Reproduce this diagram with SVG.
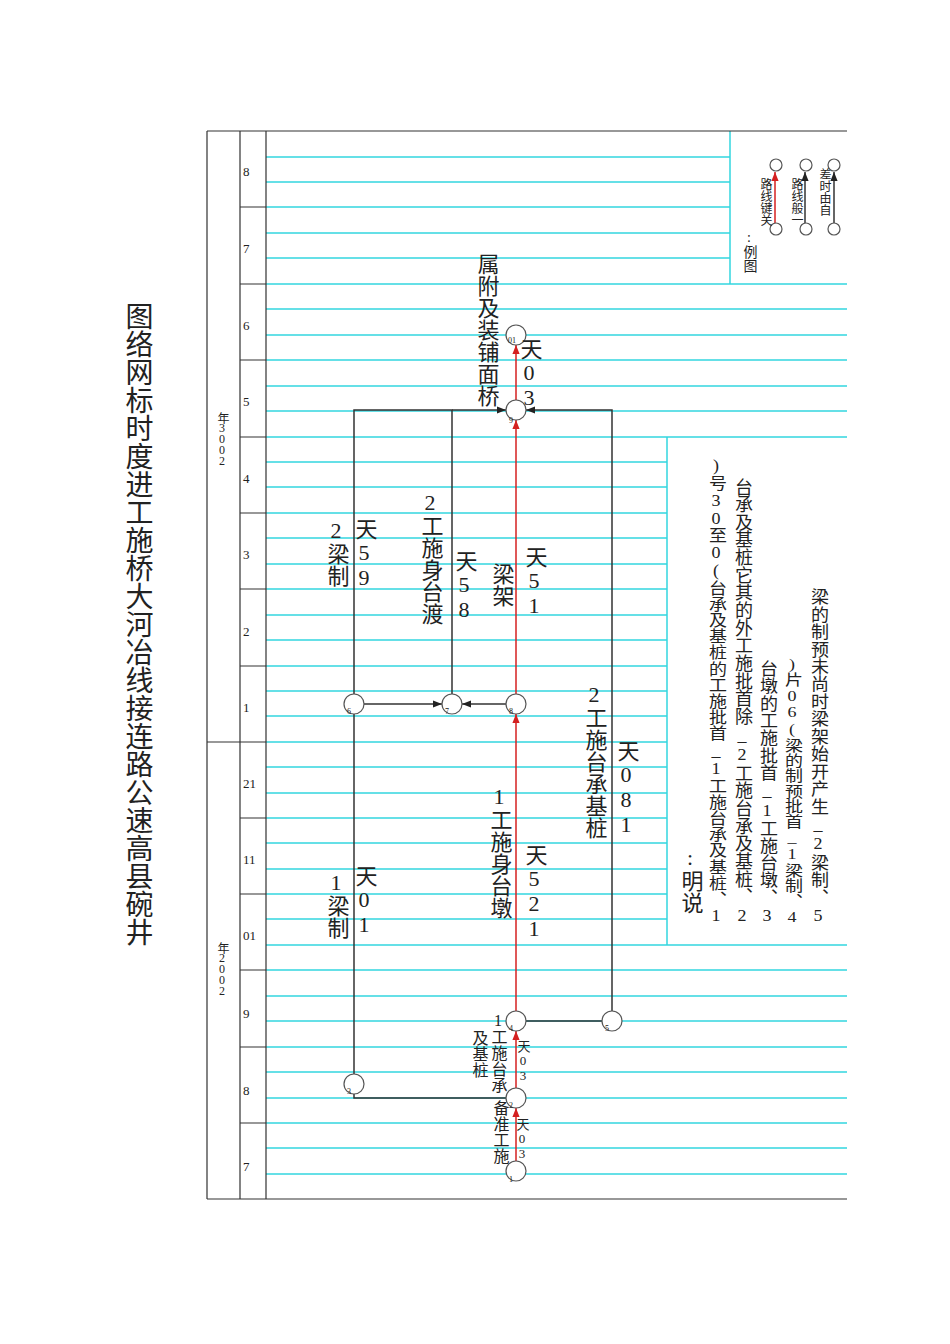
<svg xmlns="http://www.w3.org/2000/svg" width="950" height="1344" viewBox="0 0 950 1344">
<style>
.c{stroke:#33d6e0;stroke-width:1.5}
.g{stroke:#333;stroke-width:1.2;fill:none}
.k{stroke:#333;stroke-width:1.5;fill:none}
.r{stroke:#d42020;stroke-width:1.5;fill:none}
.n{fill:#fff;stroke:#555;stroke-width:1.2}
text{font-family:"Liberation Serif","Noto Sans CJK SC",serif;fill:#222}
.v{writing-mode:vertical-rl;text-orientation:upright}
</style>
<defs>
<marker id="ak" viewBox="0 0 10 10" refX="10" refY="5" markerWidth="6" markerHeight="6" orient="auto"><path d="M0,1L10,5L0,9z" fill="#222"/></marker>
<marker id="ar" viewBox="0 0 10 10" refX="10" refY="5" markerWidth="6" markerHeight="6" orient="auto"><path d="M0,1L10,5L0,9z" fill="#d42020"/></marker>
</defs>
<rect width="950" height="1344" fill="#fff"/>
<g id="grid">
<g class="c">
<path d="M266,157H730M266,182H730M266,207H730M266,233H730M266,258H730M266,284H847"/>
<path d="M266,309H847M266,335H847M266,360H847M266,386H847M266,411H847M266,437H847"/>
<path d="M266,462H667M266,487H667M266,513H667M266,538H667M266,564H667M266,589H667M266,615H667M266,640H667M266,666H667M266,691H667M266,716H667M266,742H667M266,767H667M266,793H667M266,818H667M266,843H667M266,869H667M266,894H667M266,919H667M266,945H847"/>
<path d="M266,970H847M266,996H847M266,1021H847M266,1047H847M266,1072H847M266,1098H847M266,1123H847M266,1148H847M266,1174H847"/>
<path d="M730,131V284M667,437V945"/>
</g>
<path class="g" d="M207,131H847M207,1199H847M207,131V1199M240,131V1199M266,131V1199M207,742H240"/>
<path class="g" d="M240,207H266M240,284H266M240,360H266M240,437H266M240,513H266M240,589H266M240,666H266M240,742H266M240,818H266M240,894H266M240,970H266M240,1047H266M240,1123H266"/>
<g font-size="13">
<text x="243" y="176">8</text><text x="243" y="253">7</text><text x="243" y="330">6</text><text x="243" y="406">5</text><text x="243" y="483">4</text><text x="243" y="559">3</text><text x="243" y="636">2</text><text x="243" y="712">1</text><text x="243" y="788">21</text><text x="243" y="864">11</text><text x="243" y="940">01</text><text x="243" y="1018">9</text><text x="243" y="1095">8</text><text x="243" y="1171">7</text>
<text class="v" x="222" y="412" font-size="12" letter-spacing="-3">年3002</text>
<text class="v" x="222" y="942" font-size="12" letter-spacing="-3">年2002</text>
</g>
</g>
<text class="v" x="137" y="302" font-size="28" font-family="Noto Sans CJK SC,sans-serif">图络网标时度进工施桥大河冶线接连路公速高县碗井</text>
<g id="legend">
<path class="r" d="M775,228V172" marker-end="url(#ar)"/>
<path class="k" d="M805,228V172" marker-end="url(#ak)"/>
<path class="k" d="M834,228V172" marker-end="url(#ak)"/>
<circle class="n" cx="776" cy="165" r="6"/><circle class="n" cx="776" cy="229" r="6"/>
<circle class="n" cx="806" cy="165" r="6"/><circle class="n" cx="806" cy="229" r="6"/>
<circle class="n" cx="834" cy="165" r="6"/><circle class="n" cx="834" cy="229" r="6"/>
<g font-size="12"><text class="v" x="765" y="178">路线键关</text><text class="v" x="796" y="178">路线般一</text><text class="v" x="824" y="168">差时由自</text></g>
<text class="v" x="749" y="230" font-size="14">:例图</text>
</g>
<g id="connectors">
<path class="r" d="M516,1161V1108" marker-end="url(#ar)"/>
<path class="r" d="M516,1088V1031" marker-end="url(#ar)"/>
<path class="r" d="M516,1011V714" marker-end="url(#ar)"/>
<path class="r" d="M516,694V420" marker-end="url(#ar)"/>
<path class="r" d="M516,400V345" marker-end="url(#ar)"/>
<path class="k" d="M506,1098H354V1094"/>
<path class="k" d="M354,1074V714"/>
<path class="k" d="M364,704H442" marker-end="url(#ak)"/>
<path class="k" d="M506,704H462" marker-end="url(#ak)"/>
<path class="k" d="M354,694V410H452V694"/>
<path class="k" d="M452,410H506" marker-end="url(#ak)"/>
<path class="k" d="M526,1021H602"/>
<path class="k" d="M612,1011V410H526" marker-end="url(#ak)"/>
</g>
<g id="nodes" font-size="8">
<g id="n1"><circle class="n" cx="516" cy="1171" r="10"/><text x="509" y="1182">1</text></g>
<g id="n2"><circle class="n" cx="516" cy="1098" r="10"/><text x="509" y="1108">2</text></g>
<g id="n3"><circle class="n" cx="354" cy="1084" r="10"/><text x="347" y="1094">3</text></g>
<g id="n4"><circle class="n" cx="516" cy="1021" r="10"/><text x="509" y="1031">4</text></g>
<g id="n5"><circle class="n" cx="612" cy="1021" r="10"/><text x="605" y="1031">5</text></g>
<g id="n6"><circle class="n" cx="354" cy="704" r="10"/><text x="347" y="714">6</text></g>
<g id="n7"><circle class="n" cx="452" cy="704" r="10"/><text x="445" y="714">7</text></g>
<g id="n8"><circle class="n" cx="516" cy="704" r="10"/><text x="509" y="714">8</text></g>
<g id="n9"><circle class="n" cx="516" cy="410" r="10"/><text x="509" y="423">9</text></g>
<g id="n10"><circle class="n" cx="516" cy="335" r="10"/><text x="508" y="343">01</text></g>
</g>
<g id="labels" font-size="22">
<text class="v" x="486" y="253">属附及装铺面桥</text>
<text class="v" x="529" y="338">天03</text>
<text class="v" x="534" y="546">天51</text>
<text class="v" x="501" y="563">梁架</text>
<text class="v" x="336" y="518">2梁制</text>
<text class="v" x="364" y="518">天59</text>
<text class="v" x="430" y="490">2工施身台渡</text>
<text class="v" x="464" y="550">天58</text>
<text class="v" x="594" y="682">2工施台承基桩</text>
<text class="v" x="626" y="740">天081</text>
<text class="v" x="499" y="784">1工施身台墩</text>
<text class="v" x="534" y="844">天521</text>
<text class="v" x="336" y="870">1梁制</text>
<text class="v" x="364" y="865">天01</text>
<g font-size="16">
<text class="v" x="498" y="1012">1工施台承</text>
<text class="v" x="479" y="1030">及基桩</text>
<text class="v" x="500" y="1100">备准工施</text>
</g>
<g font-size="13">
<text class="v" x="523" y="1040">天03</text>
<text class="v" x="522" y="1118">天03</text>
</g>
</g>
<g id="notes" font-size="18">
<text class="v" x="818" y="588" textLength="337" lengthAdjust="spacingAndGlyphs">梁的制预未尚时梁架始开产生_2梁制、5</text>
<text class="v" x="792" y="655" textLength="270" lengthAdjust="spacingAndGlyphs">)片06(梁的制预批首_1梁制、4</text>
<text class="v" x="767" y="660" textLength="265" lengthAdjust="spacingAndGlyphs">台墩的工施批首_1工施台墩、3</text>
<text class="v" x="742" y="478" textLength="447" lengthAdjust="spacingAndGlyphs">台承及基桩它其的外工施批首除_2工施台承及基桩、2</text>
<text class="v" x="716" y="457" textLength="468" lengthAdjust="spacingAndGlyphs">)号30至0(台承及基桩的工施批首_1工施台承及基桩、1</text>
<text class="v" x="690" y="845" font-size="22">:明说</text>
</g>
</svg>
